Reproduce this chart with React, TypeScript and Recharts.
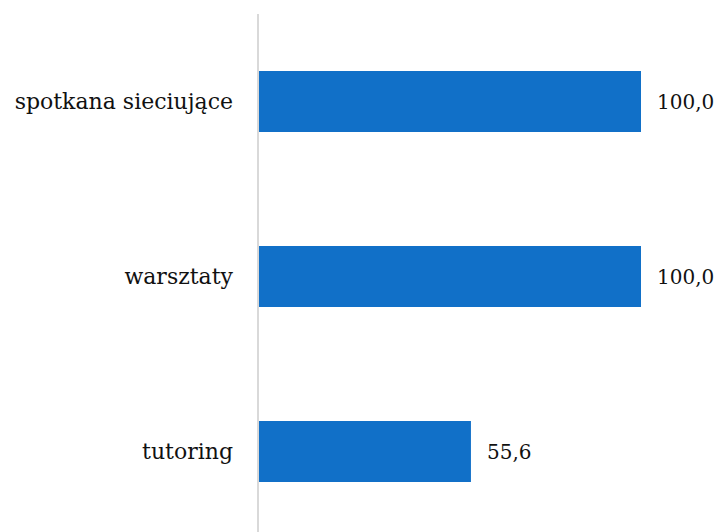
import React from 'react';
import { BarChart, Bar, XAxis, YAxis, LabelList } from 'recharts';

const categories = ['spotkana sieciujące', 'warsztaty', 'tutoring'];
const values = [100.0, 100.0, 55.6];

const data = categories.map((name, i) => ({ name, value: values[i] }));

const FONT = '"DejaVu Serif", serif';

export default function App() {
  return (
    <div style={{ position: 'absolute', left: 0, top: 0, width: 719, height: 532, overflow: 'hidden', background: '#fff' }}>
      <BarChart
        width={719}
        height={539}
        data={data}
        layout="vertical"
        margin={{ top: 14, right: 78, bottom: 0, left: 0 }}
        barSize={61}
      >
        <XAxis type="number" domain={[0, 100]} hide />
        <YAxis
          type="category"
          dataKey="name"
          width={258}
          axisLine={{ stroke: '#d9d9d9', strokeWidth: 2 }}
          tickLine={false}
          tickSize={0}
          tickMargin={25}
          tick={{ fill: '#111', fontSize: 22, fontFamily: FONT }}
        />
        <Bar dataKey="value" fill="#1170c8" isAnimationActive={false}>
          <LabelList
            dataKey="value"
            position="right"
            offset={16}
            formatter={(v: number) => v.toFixed(1).replace('.', ',')}
            style={{ fill: '#111', fontSize: 20, fontFamily: FONT }}
          />
        </Bar>
      </BarChart>
    </div>
  );
}
